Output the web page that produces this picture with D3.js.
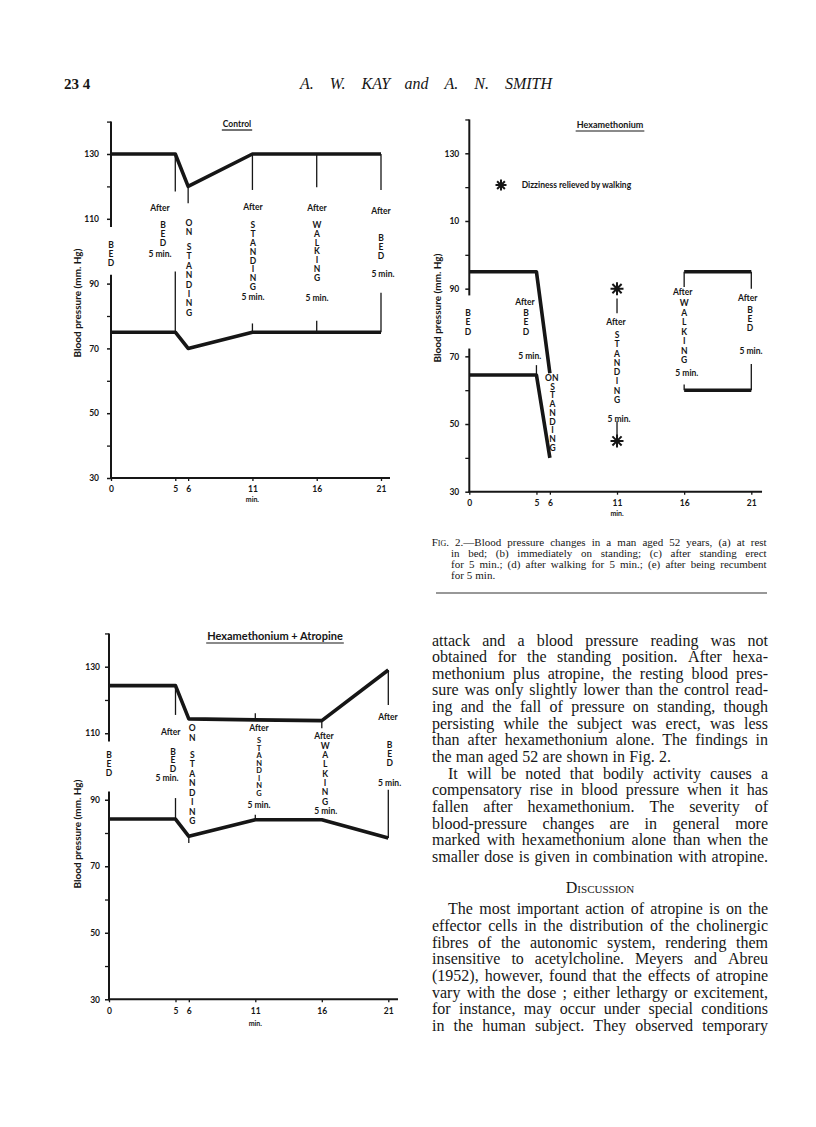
<!DOCTYPE html>
<html>
<head>
<meta charset="utf-8">
<script src="https://cdn.jsdelivr.net/npm/d3@7"></script>
<style>
  body { margin: 0; background: #fff; }
  .lbl { font-family: Lato, "DejaVu Sans", sans-serif; font-weight: 700; fill: #161616; }
  .serif { font-family: "Liberation Serif", "DejaVu Serif", serif; fill: #161616; }
</style>
</head>
<body>
<svg id="page"></svg>
<script>
// --- data ---
const minutes = [0, 5, 6, 11, 16, 21];
const minuteLabels = ["0", "5", "6", "11", "16", "21"];
const yMajor = [30, 50, 70, 90, 110, 130];
const yMinor = [40, 60, 80, 100, 120, 140];
const yLabelsControl = ["30", "50", "70", "90", "110", "130"];
const yLabelsHexa = ["30", "50", "70", "90", "10", "130"];

const controlSystolic = [130, 130, 120, 130, 130, 130];
const controlDiastolic = [75, 75, 70, 75, 75, 75];
const hexaSystolic = [95, 95, 65, null, 95, 95];
const hexaDiastolic = [64.5, 64.5, 40, null, 60, 60];
const hexaDizzy = [90, 45]; // asterisks at 11 min
const atroSystolic = [124.3, 124.3, 114.3, 114, 113.8, 129];
const atroDiastolic = [84.2, 84.2, 79, 84, 84, 78.5];

// thin vertical marks [minute, from, to] (mm Hg)
const controlMarkers = [[5,130,118.4],[6,120,114.8],[11,130,118.9],[16,130,119.7],[21,130,118.9],
  [5,75,93.7],[11,75,77.7],[16,75,78.5],[21,75,87.2]];
const hexaMarkers = [[5,64.5,67.4],[16,95,90.5],[21,95,90],[16,60,61.7],[21,60,67.7],
  [11,87.1,82.7],[11,50.8,46.7]];
const atroMarkers = [[5,124.3,115.5],[5,84.2,90.5],[11,114,116],[16,113.8,111.5],[21,129,118.5],
  [21,78.5,93],[11,84,85.5],[6,79,77]];

const W = 816, H = 1127, ink = "#161616";
const svg = d3.select("#page").attr("width", W).attr("height", H).attr("viewBox", [0, 0, W, H]);
svg.append("rect").attr("width", W).attr("height", H).attr("fill", "#fff");

const asteriskPath = (cx, cy, r) => {
  let p = "";
  for (let k = 0; k < 4; k++) {
    const a = k * Math.PI / 4, dx = r * Math.cos(a), dy = r * Math.sin(a);
    p += `M${cx + dx},${cy + dy}L${cx - dx},${cy - dy}`;
  }
  return p;
};

const drawChart = cfg => {
  const x = d3.scaleLinear().domain([0, 21]).range(cfg.xRange);
  const y = d3.scaleLinear().domain([30, 130]).range(cfg.yRange);
  const g = svg.append("g");

  // y axis (drawn with a gap where the BED label sits)
  const yg = g.append("g").attr("transform", `translate(${x(0)},0)`)
    .call(d3.axisLeft(y).tickValues(yMajor).tickFormat((d, i) => cfg.yLabels[i])
      .tickSize(4).tickPadding(cfg.yPad));
  yg.select(".domain").remove();
  yg.selectAll("line").attr("stroke", ink).attr("stroke-width", 1.5);
  yg.selectAll("text").attr("class", "lbl").style("font-size", "8.5px");

  const minorVisible = yMinor.filter(v => v < cfg.gap[0] || v > cfg.gap[1]);
  const mg = g.append("g").attr("transform", `translate(${x(0)},0)`)
    .call(d3.axisLeft(y).tickValues(minorVisible).tickFormat("").tickSize(4));
  mg.select(".domain").remove();
  mg.selectAll("line").attr("stroke", ink).attr("stroke-width", 1.3);

  g.selectAll(".ydom").data([[140, cfg.gap[1]], [cfg.gap[0], 30]]).join("line")
    .attr("x1", x(0)).attr("x2", x(0))
    .attr("y1", d => y(d[0])).attr("y2", d => y(d[1]))
    .attr("stroke", ink).attr("stroke-width", 2);

  // x axis
  const xg = g.append("g").attr("transform", `translate(0,${y(30)})`)
    .call(d3.axisBottom(x).tickValues(minutes).tickFormat((d, i) => minuteLabels[i])
      .tickSize(3).tickPadding(cfg.xPad));
  xg.select(".domain").remove();
  xg.selectAll("line").attr("stroke", ink).attr("stroke-width", 1.3);
  xg.selectAll("text").attr("class", "lbl").style("font-size", "8.5px");
  g.append("line").attr("x1", x(0) - 1).attr("x2", x(cfg.xEnd))
    .attr("y1", y(30)).attr("y2", y(30)).attr("stroke", ink).attr("stroke-width", 2);
  g.append("text").attr("class", "lbl").style("font-size", "7px")
    .attr("x", x(11)).attr("y", y(30) + cfg.minDy).attr("text-anchor", "middle").text("min.");

  // y label
  g.append("text").attr("class", "lbl").style("font-size", "10px")
    .attr("transform", `translate(${cfg.yLabelPos[0]},${cfg.yLabelPos[1]}) rotate(-90)`)
    .attr("text-anchor", "middle").attr("dy", "0.35em").text("Blood pressure (mm. Hg)");

  // title with underline
  const tt = g.append("text").attr("class", "lbl").style("font-size", cfg.titleSize + "px")
    .attr("x", cfg.titlePos[0]).attr("y", cfg.titlePos[1]).attr("text-anchor", "middle").text(cfg.title);
  const tw = tt.node().getComputedTextLength();
  g.append("line").attr("x1", cfg.titlePos[0] - tw / 2 - 1).attr("x2", cfg.titlePos[0] + tw / 2 + 1)
    .attr("y1", cfg.titlePos[1] + 3).attr("y2", cfg.titlePos[1] + 3)
    .attr("stroke", ink).attr("stroke-width", 1.2);

  // marker lines
  g.selectAll(".mk").data(cfg.markers).join("line")
    .attr("x1", d => x(d[0])).attr("x2", d => x(d[0]))
    .attr("y1", d => y(d[1])).attr("y2", d => y(d[2]))
    .attr("stroke", ink).attr("stroke-width", 1.3);

  // series
  const lineGen = d3.line().defined(d => d[1] != null).x(d => x(d[0])).y(d => y(d[1]));
  g.selectAll(".series").data(cfg.series).join("path")
    .attr("d", s => lineGen(d3.zip(minutes, s)))
    .attr("fill", "none").attr("stroke", ink).attr("stroke-width", 3.6)
    .attr("stroke-linejoin", "round");

  // annotations
  cfg.notes.forEach(a => {
    const pieces = a.vert ? a.t.split("") : [a.t];
    pieces.forEach((ch, i) => {
      g.append("text").attr("class", "lbl").style("font-size", (a.fs || 8.5) + "px")
        .attr("x", x(a.m)).attr("y", y(a.v) + i * (a.sp || 0))
        .attr("dy", "0.35em").attr("text-anchor", "middle").text(ch);
    });
  });

  return { g, x, y };
};

// Control
drawChart({
  xRange: [111, 381], yRange: [478, 154], xEnd: 21.7, gap: [92.7, 107.5],
  yLabels: yLabelsControl, yPad: 8, xPad: 5, minDy: 24,
  yLabelPos: [77, 303], title: "Control", titlePos: [237, 127], titleSize: 8.5,
  markers: controlMarkers, series: [controlSystolic, controlDiastolic],
  notes: [
    { m: 0, v: 101.9, t: "BED", vert: true, sp: 9 },
    { m: 3.81, v: 113.3, t: "After" },
    { m: 4.04, v: 108.1, t: "BED", vert: true, sp: 9 },
    { m: 3.81, v: 99.1, t: "5 min." },
    { m: 6.07, v: 108.7, t: "ON", vert: true, sp: 9 },
    { m: 6.07, v: 101.3, t: "STANDING", vert: true, sp: 9.4 },
    { m: 11.04, v: 113.6, t: "After" },
    { m: 11.04, v: 108.1, t: "STANDING", vert: true, sp: 8.9 },
    { m: 11.04, v: 85.9, t: "5 min." },
    { m: 16.02, v: 113.3, t: "After" },
    { m: 16.02, v: 108.1, t: "WALKING", vert: true, sp: 8.8 },
    { m: 16.02, v: 85.6, t: "5 min." },
    { m: 21, v: 112.4, t: "After" },
    { m: 21, v: 104.1, t: "BED", vert: true, sp: 9 },
    { m: 21.15, v: 93, t: "5 min." }
  ]
});

// Hexamethonium
const hexa = drawChart({
  xRange: [469.3, 751.3], yRange: [491.7, 153.3], xEnd: 21.8, gap: [72.3, 88],
  yLabels: yLabelsHexa, yPad: 6, xPad: 5, minDy: 24,
  yLabelPos: [437, 308], title: "Hexamethonium", titlePos: [610, 128], titleSize: 9,
  markers: hexaMarkers, series: [hexaSystolic, hexaDiastolic],
  notes: [
    { m: -0.1, v: 82.8, t: "BED", vert: true, sp: 9.3 },
    { m: 4.15, v: 86, t: "After" },
    { m: 4.22, v: 82.8, t: "BED", vert: true, sp: 9.3 },
    { m: 4.5, v: 70, t: "5 min." },
    { m: 6.14, v: 63.5, t: "ON" },
    { m: 6.2, v: 61, t: "STANDING", vert: true, sp: 8.7 },
    { m: 10.93, v: 80, t: "After" },
    { m: 11, v: 76.3, t: "STANDING", vert: true, sp: 9.3 },
    { m: 11.15, v: 51.4, t: "5 min." },
    { m: 15.9, v: 89, t: "After" },
    { m: 16, v: 85.7, t: "WALKING", vert: true, sp: 9.5 },
    { m: 16.2, v: 65, t: "5 min." },
    { m: 20.74, v: 87.2, t: "After" },
    { m: 20.9, v: 83.6, t: "BED", vert: true, sp: 9 },
    { m: 20.98, v: 71.5, t: "5 min." }
  ]
});
hexa.g.selectAll(".dizzy").data(hexaDizzy).join("path")
  .attr("d", v => asteriskPath(hexa.x(11), hexa.y(v), 6.5))
  .attr("stroke", ink).attr("stroke-width", 2).attr("fill", "none");
hexa.g.append("path").attr("d", asteriskPath(hexa.x(2.36), hexa.y(120.6), 5.5))
  .attr("stroke", ink).attr("stroke-width", 2).attr("fill", "none");
hexa.g.append("text").attr("class", "lbl").style("font-size", "8.5px")
  .attr("x", hexa.x(3.9)).attr("y", hexa.y(120.6)).attr("dy", "0.35em")
  .text("Dizziness relieved by walking");

// Hexamethonium + Atropine
drawChart({
  xRange: [109, 388.3], yRange: [999.3, 666.7], xEnd: 21.73, gap: [92.5, 107.5],
  yLabels: yLabelsControl, yPad: 5, xPad: 6, minDy: 27,
  yLabelPos: [77, 834], title: "Hexamethonium + Atropine", titlePos: [275, 640], titleSize: 11,
  markers: atroMarkers, series: [atroSystolic, atroDiastolic],
  notes: [
    { m: 0, v: 103.5, t: "BED", vert: true, sp: 9 },
    { m: 4.64, v: 110.4, t: "After" },
    { m: 4.81, v: 104.4, t: "BED", vert: true, sp: 8.5 },
    { m: 4.36, v: 96.6, t: "5 min." },
    { m: 6.26, v: 111.6, t: "ON", vert: true, sp: 10 },
    { m: 6.26, v: 103.5, t: "STANDING", vert: true, sp: 9.5 },
    { m: 11.28, v: 111.6, t: "After" },
    { m: 11.28, v: 107.7, t: "STANDING", vert: true, sp: 7.5, fs: 7.5 },
    { m: 11.28, v: 88.5, t: "5 min." },
    { m: 16.17, v: 109.2, t: "After" },
    { m: 16.25, v: 106.2, t: "WALKING", vert: true, sp: 9.3 },
    { m: 16.3, v: 86.7, t: "5 min." },
    { m: 20.98, v: 114.9, t: "After" },
    { m: 21.1, v: 106.5, t: "BED", vert: true, sp: 9 },
    { m: 21.1, v: 95, t: "5 min." }
  ]
});

// --- page text ---
const justify = (str, x0, x1, y, size, opts = {}) => {
  const words = str.split(/\s+/);
  const t = svg.append("text").attr("class", "serif").attr("y", y);
  if (opts.italic) t.style("font-style", "italic");
  if (opts.bold) t.style("font-weight", "bold");
  const spans = words.map(w => t.append("tspan").text(w));
  if (opts.capsFirst) spans[0].style("font-variant", "small-caps");
  let fs = size, widths, total;
  const minGap = n => n * 0.18;
  do {
    t.style("font-size", fs + "px");
    widths = spans.map(s => s.node().getComputedTextLength());
    total = d3.sum(widths);
    if (total + minGap(fs) * (words.length - 1) <= x1 - x0 || opts.ragged) break;
    fs -= 0.2;
  } while (fs > size * 0.85);
  const gap = opts.ragged || words.length < 2 ? fs * 0.27
    : (x1 - x0 - total) / (words.length - 1);
  let xx = x0;
  spans.forEach((s, i) => { s.attr("x", xx); xx += widths[i] + gap; });
};

svg.append("text").attr("class", "serif").attr("x", 64).attr("y", 89)
  .style("font-size", "15px").style("font-weight", "bold").text("23 4");
justify("A. W. KAY and A. N. SMITH", 300, 552, 89, 16, { italic: true });

const captionLines = [
  "Fig. 2.—Blood pressure changes in a man aged 52 years, (a) at rest",
  "in bed;  (b) immediately on standing;  (c) after standing erect",
  "for 5 min.; (d) after walking for 5 min.; (e) after being recumbent",
  "for 5 min."
];
captionLines.forEach((l, i) => justify(l, i ? 451 : 431.7, 766.7, 545.5 + i * 11.2, 11,
  { capsFirst: i === 0, ragged: i === 3 }));
svg.append("line").attr("x1", 436).attr("x2", 767).attr("y1", 593).attr("y2", 593)
  .attr("stroke", "#333").attr("stroke-width", 1.2);

const bodyLines = [
  ["attack and a blood pressure reading was not", 432],
  ["obtained for the standing position. After hexa-", 432],
  ["methonium plus atropine, the resting blood pres-", 432],
  ["sure was only slightly lower than the control read-", 432],
  ["ing and the fall of pressure on standing, though", 432],
  ["persisting while the subject was erect, was less", 432],
  ["than after hexamethonium alone. The findings in", 432],
  ["the man aged 52 are shown in Fig. 2.", 432, true],
  ["It will be noted that bodily activity causes a", 448],
  ["compensatory rise in blood pressure when it has", 432],
  ["fallen after hexamethonium. The severity of", 432],
  ["blood-pressure changes are in general more", 432],
  ["marked with hexamethonium alone than when the", 432],
  ["smaller dose is given in combination with atropine.", 432]
];
bodyLines.forEach((l, i) => justify(l[0], l[1], 768, 645.5 + i * 16.65, 16, { ragged: l[2] }));

svg.append("text").attr("class", "serif").attr("x", 600).attr("y", 893)
  .attr("text-anchor", "middle").style("font-size", "16px").style("font-variant", "small-caps")
  .text("Discussion");

const discussionLines = [
  ["The most important action of atropine is on the", 448],
  ["effector cells in the distribution of the cholinergic", 432],
  ["fibres of the autonomic system, rendering them", 432],
  ["insensitive to acetylcholine. Meyers and Abreu", 432],
  ["(1952), however, found that the effects of atropine", 432],
  ["vary with the dose ; either lethargy or excitement,", 432],
  ["for instance, may occur under special conditions", 432],
  ["in the human subject. They observed temporary", 432]
];
discussionLines.forEach((l, i) => justify(l[0], l[1], 768, 914.3 + i * 16.65, 16));
</script>
</body>
</html>
